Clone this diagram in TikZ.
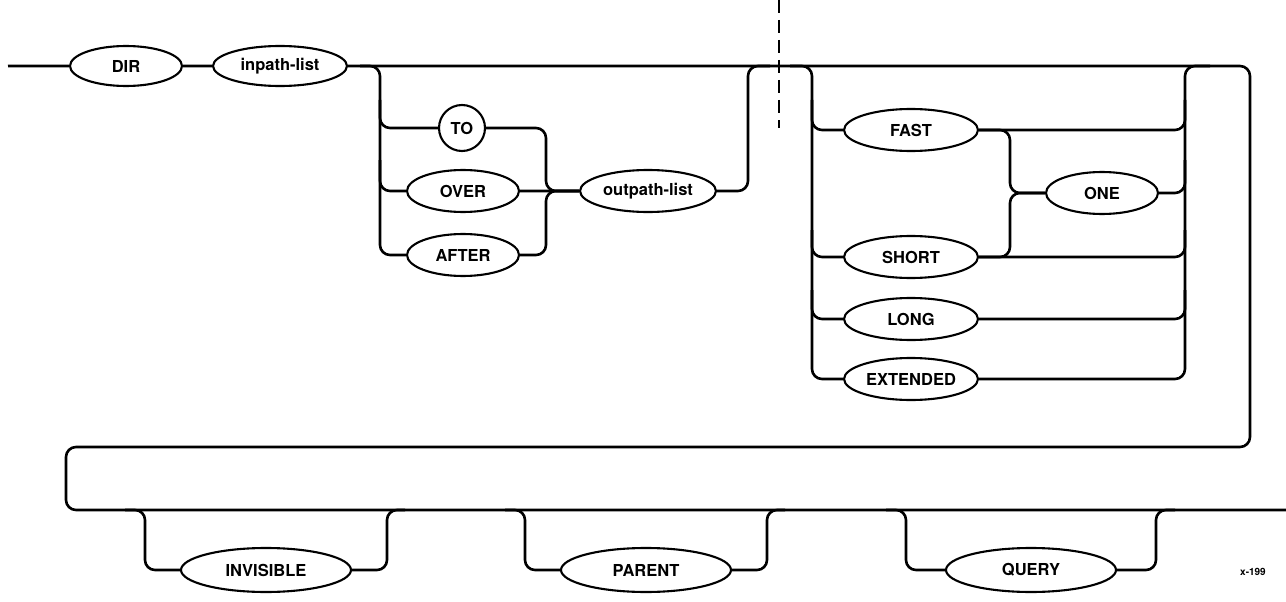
\documentclass[tikz,border=0pt]{standalone}
\usepackage{fontspec}
\setmainfont{TeX Gyre Heros}
\usetikzlibrary{shapes.geometric}
\tikzset{
  wire/.style={line width=2.6pt},
  conn/.style={wire, rounded corners=10pt},
  term/.style={ellipse, draw, line width=2.1pt, inner sep=0pt, minimum height=40pt, font=\fontsize{16.5}{18}\selectfont\bfseries},
  opt/.style={term, minimum width=134pt, minimum height=42pt},
  big/.style={term, minimum width=170pt, minimum height=44pt},
  cuttag/.style={line width=1.6pt, dash pattern=on 13pt off 7pt}
}
\begin{document}
\begin{tikzpicture}[x=1pt,y=-1pt]
\useasboundingbox (0,0) rectangle (1286,602);
% top row
\coordinate (start) at (8,66);
\node[term, minimum width=112pt] (DIR) at (126,66) {DIR};
\node[term, minimum width=134pt] (inp) at (280,66) {inpath-list};
% to/over/after
\node[term, circle, minimum size=46pt] (TO) at (462,128) {TO};
\node[term, minimum width=112pt, minimum height=42pt] (OVER) at (463,191) {OVER};
\node[term, minimum width=112pt, minimum height=42pt] (AFTER) at (463,255) {AFTER};
\node[term, minimum width=136pt, minimum height=42pt] (outp) at (648,191) {outpath-list};
% options
\node[opt] (FAST) at (911,130) {FAST};
\node[term, minimum width=112pt, minimum height=42pt] (ONE) at (1102,193) {ONE};
\node[opt] (SHORT) at (911,257) {SHORT};
\node[opt] (LONG) at (911,319) {LONG};
\node[opt] (EXT) at (911,379) {EXTENDED};
% bottom
\node[big] (INV) at (266,570) {INVISIBLE};
\node[big] (PAR) at (646,570) {PARENT};
\node[big] (QRY) at (1031,570) {QUERY};
\node[font=\fontsize{10}{12}\selectfont\bfseries] (tag) at (1253,572) {x-199};
% corner coordinates
\coordinate (tr) at (1250,66);
\coordinate (br) at (1250,447);
\coordinate (bl) at (66,447);
\coordinate (ll) at (66,510);
\coordinate (exit) at (1286,510);
\coordinate (cutA) at (779,0);
\coordinate (cutB) at (779,128);
% main line
\draw[wire] (start) ++(0,0.01) -- (DIR.west);
\draw[wire] (DIR.east) ++(0,0.01) -- (inp.west);
\draw[conn] (inp.east) -- (tr) -- (br) -- (bl) -- (ll) -- (exit);
% left rail of TO/OVER/AFTER
\draw[conn] (360,66) -| (380,255) -- (AFTER.west);
\draw[conn] (380,100) |- (TO.west);
\draw[conn] (380,160) |- (OVER.west);
% merge
\draw[conn] (TO.east) -| (546,191) -- (outp.west);
\draw[conn] (AFTER.east) -| (546,191) -- (outp.west);
\draw[wire] (OVER.east) ++(0,0.01) -- (outp.west);
% return
\draw[conn] (outp.east) -| (748,66) -- (770,66);
% cut mark
\draw[cuttag] (cutA) -- (cutB);
% options left rail
\draw[conn] (790,66) -| (812,379) -- (EXT.west);
\draw[conn] (812,100) |- (FAST.west);
\draw[conn] (812,230) |- (SHORT.west);
\draw[conn] (812,290) |- (LONG.west);
% options right rail
\draw[conn] (EXT.east) -| (1185,66) -- (1210,66);
\draw[conn] (FAST.east) -| (1185,100);
\draw[conn] (SHORT.east) -| (1185,230);
\draw[conn] (LONG.east) -| (1185,290);
\draw[conn] (ONE.east) -| (1185,160);
% ONE
\draw[conn] (FAST.east) -| (1010,193) -- (ONE.west);
\draw[conn] (SHORT.east) -| (1010,193) -- (ONE.west);
% bottom options
\draw[conn] (125,510) -| (145,570) -- (INV.west);
\draw[conn] (INV.east) -| (387,510) -- (405,510);
\draw[conn] (505,510) -| (525,570) -- (PAR.west);
\draw[conn] (PAR.east) -| (767,510) -- (785,510);
\draw[conn] (886,510) -| (906,570) -- (QRY.west);
\draw[conn] (QRY.east) -| (1156,510) -- (1175,510);
\end{tikzpicture}
\end{document}
